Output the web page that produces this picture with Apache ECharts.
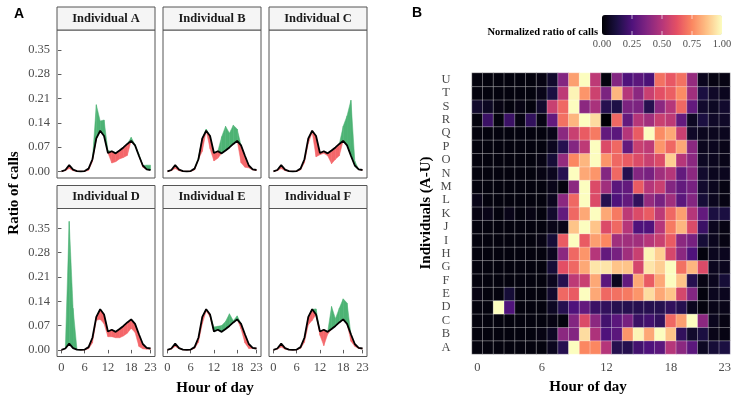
<!DOCTYPE html>
<html><head><meta charset="utf-8">
<script src="https://cdn.jsdelivr.net/npm/echarts@6/dist/echarts.min.js"></script>
<style>html,body{margin:0;padding:0;background:#fff}#c{width:750px;height:407px}</style>
</head><body><div id="c"></div>
<script>
// ---------- data ----------
const hours = [0,1,2,3,4,5,6,7,8,9,10,11,12,13,14,15,16,17,18,19,20,21,22,23];
const meanCalls = [0,0.004,0.018,0.005,0.001,0,0.001,0.008,0.035,0.095,0.117,0.102,0.053,0.058,0.052,0.06,0.069,0.079,0.088,0.075,0.045,0.017,0.006,0.004];
const indA = [0,0.002,0.008,0.002,0,0,0,0.003,0.028,0.192,0.145,0.148,0.06,0.024,0.028,0.036,0.04,0.046,0.098,0.077,0.05,0.012,0.018,0.018];
const indB = [0,0.002,0.008,0.002,0,0,0,0.004,0.04,0.058,0.122,0.065,0.03,0.038,0.1,0.13,0.11,0.133,0.122,0.025,0.012,0.01,0.004,0.003];
const indC = [0,0.002,0.008,0.002,0,0,0,0.004,0.025,0.08,0.112,0.042,0.048,0.052,0.045,0.022,0.035,0.045,0.13,0.16,0.205,0.03,0.005,0.004];
const indD = [0,0.003,0.37,0.12,0.002,0,0,0.003,0.02,0.085,0.088,0.075,0.038,0.038,0.035,0.035,0.04,0.048,0.062,0.05,0.01,0.003,0.002,0.002];
const indE = [0,0.002,0.01,0.003,0,0,0,0.004,0.022,0.075,0.112,0.095,0.066,0.068,0.07,0.082,0.104,0.084,0.098,0.06,0.02,0.004,0.004,0.003];
const indF = [0,0.002,0.008,0.002,0,0,0,0.004,0.022,0.072,0.085,0.118,0.042,0.012,0.045,0.125,0.09,0.12,0.147,0.135,0.025,0.01,0.004,0.003];
const panelNames = ['Individual A','Individual B','Individual C','Individual D','Individual E','Individual F'];
const yTicks = [0,0.07,0.14,0.21,0.28,0.35];
const xTicks = [0,6,12,18,23];

const individuals = ['A','B','C','D','E','F','G','H','I','J','K','L','M','N','O','P','Q','R','S','T','U'];
const heatA = [0.02,0.02,0.02,0.02,0.02,0.02,0.02,0.05,0.15,1.0,0.75,0.75,0.5,0.15,0.15,0.22,0.25,0.28,0.5,0.4,0.28,0.06,0.1,0.12];
const heatB = [0.02,0.02,0.02,0.02,0.02,0.02,0.03,0.06,0.4,0.38,0.93,0.48,0.25,0.28,0.78,0.98,0.82,1.0,0.88,0.18,0.08,0.12,0.04,0.03];
const heatC = [0.02,0.02,0.02,0.02,0.02,0.02,0.02,0.03,0.02,0.38,0.6,0.4,0.22,0.28,0.35,0.2,0.22,0.18,0.68,0.8,1.0,0.4,0.05,0.03];
const heatD = [0.02,0.02,1.0,0.25,0.02,0.02,0.02,0.06,0.15,0.25,0.3,0.2,0.18,0.15,0.15,0.15,0.15,0.15,0.18,0.15,0.05,0.02,0.04,0.04];
const heatE = [0.03,0.02,0.02,0.1,0.02,0.02,0.02,0.08,0.68,0.65,1.0,0.82,0.68,0.7,0.72,0.78,0.93,0.82,0.88,0.58,0.38,0.02,0.05,0.05];
const heatF = [0.02,0.02,0.02,0.02,0.02,0.02,0.02,0.05,0.15,0.52,0.55,0.82,0.28,0.05,0.3,0.82,0.65,0.82,1.0,0.88,0.15,0.03,0.05,0.1];
const heatG = [0.02,0.02,0.02,0.02,0.02,0.02,0.02,0.1,0.62,0.68,0.82,0.95,0.95,0.88,0.88,0.58,0.95,0.9,1.0,0.7,0.85,0.6,0.05,0.05];
const heatH = [0.02,0.02,0.02,0.02,0.02,0.02,0.02,0.05,0.4,0.68,0.78,0.5,0.3,0.35,0.45,0.55,0.98,0.9,0.58,0.4,0.25,0.02,0.05,0.05];
const heatI = [0.02,0.02,0.02,0.02,0.02,0.02,0.03,0.1,0.65,1.0,0.65,0.8,0.75,0.45,0.45,0.45,0.5,0.55,0.65,0.4,0.35,0.1,0.05,0.03];
const heatJ = [0.02,0.02,0.02,0.02,0.02,0.02,0.02,0.04,0.04,0.88,1.0,0.88,0.6,0.68,0.5,0.25,0.25,0.5,0.72,0.85,0.6,0.2,0.05,0.03];
const heatK = [0.03,0.04,0.02,0.04,0.02,0.03,0.02,0.08,0.3,0.68,0.82,1.0,0.82,0.72,0.52,0.6,0.65,0.52,0.68,0.8,0.5,0.3,0.12,0.12];
const heatL = [0.04,0.02,0.02,0.02,0.02,0.02,0.02,0.05,0.4,0.68,1.0,0.6,0.15,0.25,0.3,0.18,0.42,0.35,0.45,0.28,0.38,0.1,0.05,0.03];
const heatM = [0.02,0.02,0.02,0.02,0.02,0.02,0.02,0.04,0.02,0.4,1.0,0.6,0.45,0.28,0.3,0.65,0.5,0.55,0.38,0.3,0.35,0.08,0.05,0.03];
const heatN = [0.02,0.02,0.02,0.02,0.02,0.02,0.03,0.05,0.15,1.0,0.82,0.78,0.38,0.68,0.15,0.38,0.35,0.45,0.5,0.3,0.4,0.08,0.05,0.05];
const heatO = [0.02,0.02,0.02,0.02,0.02,0.02,0.03,0.1,0.42,0.75,0.85,1.0,0.78,0.68,0.65,0.6,0.55,0.6,0.9,0.5,0.4,0.06,0.05,0.04];
const heatP = [0.02,0.02,0.02,0.02,0.02,0.02,0.02,0.05,0.15,0.38,0.52,1.0,0.6,0.68,0.3,0.55,0.52,0.78,0.68,0.82,0.4,0.05,0.05,0.04];
const heatQ = [0.02,0.02,0.02,0.02,0.02,0.02,0.02,0.04,0.4,0.55,0.65,0.72,0.3,0.28,0.5,0.65,1.0,0.76,0.82,0.55,0.07,0.05,0.05,0.05];
const heatR = [0.02,0.2,0.02,0.2,0.03,0.18,0.03,0.3,0.7,0.85,1.0,0.93,0.0,0.68,0.3,0.5,0.45,0.55,0.52,0.3,0.06,0.12,0.07,0.07];
const heatS = [0.08,0.06,0.03,0.02,0.03,0.02,0.08,0.55,0.68,1.0,0.4,0.47,0.15,0.13,0.36,0.36,0.15,0.4,0.5,0.68,0.3,0.08,0.06,0.08];
const heatT = [0.02,0.02,0.02,0.02,0.02,0.02,0.04,0.12,0.52,0.98,0.78,0.56,0.36,0.85,0.5,0.4,0.55,0.62,0.66,0.76,0.45,0.12,0.07,0.05];
const heatU = [0.02,0.02,0.02,0.02,0.02,0.02,0.03,0.08,0.38,0.8,1.0,0.52,0.02,0.38,0.25,0.28,0.24,0.7,0.64,0.7,0.42,0.05,0.03,0.03];
const legendTicks = [0, 0.25, 0.5, 0.75, 1];

// ---------- styles / layout ----------
const GREEN = '#4DB374', RED = '#F4676A';
const SERIF = '"Liberation Serif", "DejaVu Serif", serif';
const SANS = '"Liberation Sans", Arial, sans-serif';
const MAGMA = ['#000004','#1c1044','#4f127b','#812581','#b5367a','#e55064','#fb8761','#fec287','#fcfdbf'];
const PW = 98, PH = 148, STRIP = 23;
const panelPos = [[57,30],[163,30],[269,30],[57,208.5],[163,208.5],[269,208.5]];
const HG = {left:472, top:73, width:258, height:281};
const CB = {left:602, top:15, len:120, thick:20};

const inds = [indA, indB, indC, indD, indE, indF];
const heatRows = [heatA,heatB,heatC,heatD,heatE,heatF,heatG,heatH,heatI,heatJ,heatK,heatL,heatM,heatN,heatO,heatP,heatQ,heatR,heatS,heatT,heatU];

function ribbonRender(color) {
  return function (params, api) {
    const x0 = api.value(0), l0 = api.value(1), h0 = api.value(2);
    const x1 = api.value(3), l1 = api.value(4), h1 = api.value(5);
    if (h0 - l0 <= 1e-9 && h1 - l1 <= 1e-9) return null;
    const pts = [api.coord([x0, l0]), api.coord([x1, l1]), api.coord([x1, h1]), api.coord([x0, h0])];
    return {type:'polygon', shape:{points:pts}, style:{fill:color, stroke:color, lineWidth:0.5}};
  };
}
function segments(lo, hi) {
  const out = [];
  for (let k = 0; k < hours.length - 1; k++) out.push([hours[k], lo[k], hi[k], hours[k+1], lo[k+1], hi[k+1]]);
  return out;
}

const grids = [], xAxes = [], yAxes = [], series = [], graphics = [];
panelPos.forEach((p, i) => {
  const isLeft = (i % 3 === 0), isBottom = i >= 3;
  grids.push({left:p[0], top:p[1], width:PW, height:PH, show:true, borderColor:'#555', borderWidth:1, backgroundColor:'transparent'});
  xAxes.push({type:'value', gridIndex:i, min:-1.15, max:24.15,
    axisLine:{show:false}, splitLine:{show:false},
    axisTick:{show:isBottom, customValues:xTicks, length:3.5, lineStyle:{color:'#333', width:0.8}},
    axisLabel:{show:isBottom, customValues:xTicks, margin:5, color:'#4D4D4D', fontFamily:SERIF, fontSize:12.5}});
  yAxes.push({type:'value', gridIndex:i, min:-0.019, max:0.407,
    axisLine:{show:false}, splitLine:{show:false},
    axisTick:{show:isLeft, customValues:yTicks, length:3.5, lineStyle:{color:'#333', width:0.8}},
    axisLabel:{show:isLeft, customValues:yTicks, margin:7, color:'#4D4D4D', fontFamily:SERIF, fontSize:12.5,
      formatter:v => v.toFixed(2)}});
  const ind = inds[i];
  const upper = hours.map(h => Math.max(ind[h], meanCalls[h]));
  const lower = hours.map(h => Math.min(ind[h], meanCalls[h]));
  const cust = {type:'custom', xAxisIndex:i, yAxisIndex:i, silent:true, animation:false, clip:true, z:2,
    dimensions:['x0','l0','h0','x1','l1','h1'], encode:{x:[0,3], y:[1,2,4,5]}};
  series.push(Object.assign({}, cust, {renderItem:ribbonRender(GREEN), data:segments(meanCalls, upper)}));
  series.push(Object.assign({}, cust, {renderItem:ribbonRender(RED), data:segments(lower, meanCalls)}));
  series.push({type:'line', xAxisIndex:i, yAxisIndex:i, symbol:'none', silent:true, animation:false, z:3,
    lineStyle:{width:1.8, color:'#000'}, data:hours.map(h => [h, meanCalls[h]])});
  // strip
  graphics.push({type:'rect', shape:{x:p[0], y:p[1]-STRIP, width:PW, height:STRIP},
    style:{fill:'#F5F5F5', stroke:'#555', lineWidth:1}, z:10});
  graphics.push({type:'text', x:p[0]+PW/2, y:p[1]-STRIP/2, z:11,
    style:{text:panelNames[i], font:'bold 12.5px ' + SERIF, fill:'#1A1A1A', textAlign:'center', textVerticalAlign:'middle'}});
});

// heatmap grid
const hi = grids.length;
grids.push({left:HG.left, top:HG.top, width:HG.width, height:HG.height, show:false});
xAxes.push({type:'category', gridIndex:hi, data:hours.map(String), axisLine:{show:false}, axisTick:{show:false}, splitLine:{show:false},
  axisLabel:{interval:(idx) => xTicks.indexOf(idx) >= 0, margin:7, color:'#4D4D4D', fontFamily:SERIF, fontSize:12.5}});
yAxes.push({type:'category', gridIndex:hi, data:individuals, axisLine:{show:false}, axisTick:{show:false}, splitLine:{show:false},
  axisLabel:{interval:0, align:'center', margin:26, color:'#4D4D4D', fontFamily:SERIF, fontSize:12.5}});
const heatData = [];
heatRows.forEach((row, r) => row.forEach((v, c) => heatData.push([c, r, v])));
series.push({type:'heatmap', xAxisIndex:hi, yAxisIndex:hi, data:heatData, silent:true, animation:false,
  itemStyle:{borderColor:'rgba(255,255,255,0.55)', borderWidth:0.6}});
const heatSeriesIndex = series.length - 1;

// titles
graphics.push({type:'text', x:19, y:14, style:{text:'A', font:'bold 14px ' + SANS, fill:'#000', textAlign:'center', textVerticalAlign:'middle'}});
graphics.push({type:'text', x:417, y:13.5, style:{text:'B', font:'bold 14px ' + SANS, fill:'#000', textAlign:'center', textVerticalAlign:'middle'}});
graphics.push({type:'text', x:14, y:193, rotation:Math.PI/2, style:{text:'Ratio of calls', font:'bold 15px ' + SERIF, fill:'#000', textAlign:'center', textVerticalAlign:'middle'}});
graphics.push({type:'text', x:215, y:388, style:{text:'Hour of day', font:'bold 15px ' + SERIF, fill:'#000', textAlign:'center', textVerticalAlign:'middle'}});
graphics.push({type:'text', x:426, y:213, rotation:Math.PI/2, style:{text:'Individuals (A-U)', font:'bold 15px ' + SERIF, fill:'#000', textAlign:'center', textVerticalAlign:'middle'}});
graphics.push({type:'text', x:588, y:387, style:{text:'Hour of day', font:'bold 15px ' + SERIF, fill:'#000', textAlign:'center', textVerticalAlign:'middle'}});
graphics.push({type:'text', x:598, y:32, style:{text:'Normalized ratio of calls', font:'bold 10.5px ' + SERIF, fill:'#000', textAlign:'right', textVerticalAlign:'middle'}});
legendTicks.forEach(v => {
  const x = CB.left + v * CB.len;
  graphics.push({type:'text', x:x, y:44.5, style:{text:v.toFixed(2), font:'10.5px ' + SERIF, fill:'#4D4D4D', textAlign:'center', textVerticalAlign:'middle'}});
  if (v > 0 && v < 1) {
    graphics.push({type:'line', z:20, shape:{x1:x, y1:CB.top, x2:x, y2:CB.top+4}, style:{stroke:'rgba(255,255,255,0.8)', lineWidth:0.8}});
    graphics.push({type:'line', z:20, shape:{x1:x, y1:CB.top+CB.thick-4, x2:x, y2:CB.top+CB.thick}, style:{stroke:'rgba(255,255,255,0.8)', lineWidth:0.8}});
  }
});

const option = {
  backgroundColor:'#fff',
  animation:false,
  grid:grids, xAxis:xAxes, yAxis:yAxes, series:series,
  visualMap:{type:'continuous', min:0, max:1, orient:'horizontal', left:CB.left, top:CB.top, padding:0,
    itemWidth:CB.thick, itemHeight:CB.len, calculable:false, realtime:false, hoverLink:false,
    seriesIndex:heatSeriesIndex, inRange:{color:MAGMA}, text:null, showLabel:false},
  graphic:graphics
};
const chart = echarts.init(document.getElementById('c'));
chart.setOption(option);
</script></body></html>
